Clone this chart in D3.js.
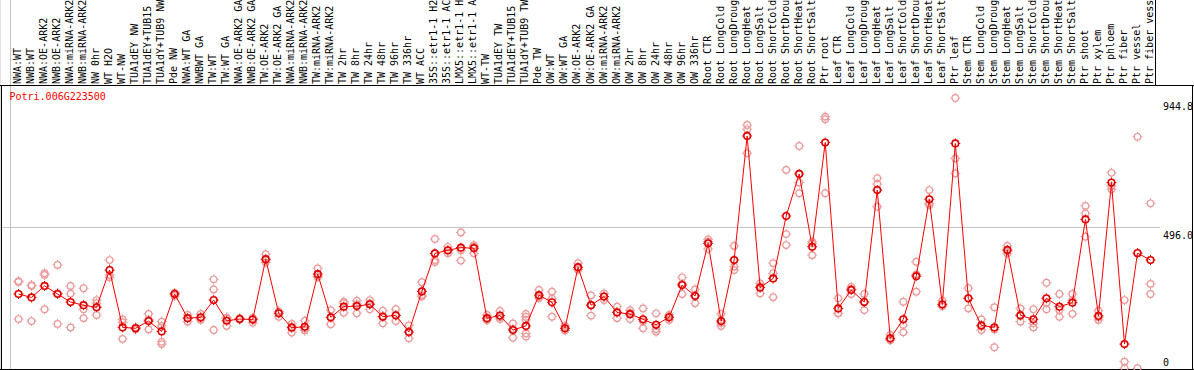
<!DOCTYPE html>
<html>
<head>
<meta charset="utf-8">
<script src="https://cdn.jsdelivr.net/npm/d3@7"></script>
<style>
  body { margin: 0; background: #fff; }
  svg { display: block; }
  text { font-family: "DejaVu Sans Mono", monospace; font-size: 10px; }
</style>
</head>
<body>
<div id="chart"></div>
<script>
// expression profile of one gene across the sample series
const geneId = "Potri.006G223500";

// labels as far as the header shows them
const sampleLabels = [
  "NWA:WT", "NWB:WT", "NWA:OE-ARK2", "NWB:OE-ARK2", "NWA:miRNA-ARK2", "NWB:miRNA-ARK2",
  "NW 0hr", "WT H2O", "WT-NW", "TUA1dEY NW", "TUA1dEY+TUB15", "TUA1dY+TUB9 NW", "Pde NW",
  "NWA:WT GA", "NWBWT GA", "TW:WT", "TW:WT GA", "NWA:OE-ARK2 GA", "NWB:OE-ARK2 GA",
  "TW:OE-ARK2", "TW:OE-ARK2 GA", "NWA:miRNA-ARK2", "NWB:miRNA-ARK2", "TW:miRNA-ARK2",
  "TW:miRNA-ARK2", "TW 2hr", "TW 8hr", "TW 24hr", "TW 48hr", "TW 96hr", "TW 336hr",
  "WT ACC", "35S::etr1-1 H2", "35S::etr1-1 AC", "LMX5::etr1-1 H", "LMX5::etr1-1 A",
  "WT-TW", "TUA1dEY TW", "TUA1dEY+TUB15", "TUA1dY+TUB9 TW", "Pde TW",
  "OW:WT", "OW:WT GA", "OW:OE-ARK2", "OW:OE-ARK2 GA", "OW:miRNA-ARK2", "OW:miRNA-ARK2",
  "OW 2hr", "OW 8hr", "OW 24hr", "OW 48hr", "OW 96hr", "OW 336hr",
  "Root CTR", "Root LongCold", "Root LongDroug", "Root LongHeat", "Root LongSalt",
  "Root ShortCold", "Root ShortDrou", "Root ShortHeat", "Root ShortSalt", "Ptr root",
  "Leaf CTR", "Leaf LongCold", "Leaf LongDroug", "Leaf LongHeat", "Leaf LongSalt",
  "Leaf ShortCold", "Leaf ShortDrou", "Leaf ShortHeat", "Leaf ShortSalt", "Ptr leaf",
  "Stem CTR", "Stem LongCold", "Stem LongDroug", "Stem LongHeat", "Stem LongSalt",
  "Stem ShortCold", "Stem ShortDrou", "Stem ShortHeat", "Stem ShortSalt", "Ptr shoot",
  "Ptr xylem", "Ptr phloem", "Ptr fiber", "Ptr vessel", "Ptr fiber vess"
];

// number of samples between separator lines
const groupSizes = [13, 28, 12, 10, 10, 11, 1, 1, 1, 1];

const meanValues = [
  264, 252, 292, 264, 236, 225, 218, 347, 148, 145, 170, 134, 264,
  180, 183, 243, 171, 177, 175, 385, 197, 147, 150, 333, 183, 220, 222, 228, 185, 190, 132,
  273, 405, 416, 425, 423, 180, 189, 139, 153, 260,
  235, 145, 357, 225, 255, 200, 194, 176, 157, 183, 295, 257,
  440, 170, 382, 813, 286, 318, 535, 681, 428, 790,
  214, 278, 236, 625, 110, 176, 326, 593, 228, 787,
  249, 155, 148, 417, 190, 176, 249, 220, 234, 523, 188,
  651, 90, 406, 382
];

const replicateValues = [
  [309, 177, 306], [295, 170, 292], [336, 330, 211], [365, 160, 267], [292, 265, 148],
  [284, 211, 180], [243, 232, 191], [382, 330, 322], [176, 166, 108], [148, 141, 146],
  [195, 141, 175], [168, 153, 98, 90], [268, 257, 267],
  [191, 168, 180], [195, 174, 180], [315, 280, 139], [183, 153, 178], [180, 175, 177],
  [180, 164, 180], [402, 373, 382], [203, 185, 203], [160, 130, 151], [171, 137, 143],
  [353, 324, 323], [208, 159, 182], [237, 232, 199], [241, 197, 229], [243, 211, 231],
  [206, 162, 187], [211, 170, 189], [155, 110, 131], [305, 260, 255], [455, 382, 375],
  [428, 405, 414], [478, 380, 416], [434, 405, 429], [191, 174, 174], [205, 177, 184],
  [162, 112, 143], [195, 185, 174, 127, 116], [278, 253, 250],
  [272, 185, 248], [153, 137, 144], [371, 350, 349], [259, 189, 226], [266, 243, 255],
  [220, 180, 201], [208, 177, 198], [214, 145, 169], [197, 133, 142], [191, 174, 184],
  [322, 264, 300], [280, 232, 259],
  [454, 446, 420], [195, 153, 163], [431, 359, 347], [851, 836, 753], [301, 266, 291],
  [371, 336, 253], [695, 472, 434], [778, 651, 614], [446, 399, 440], [880, 871, 614],
  [249, 197, 197], [289, 264, 281], [264, 208, 237], [666, 646, 567], [122, 104, 104],
  [237, 156, 131], [376, 272, 332], [625, 579, 573], [241, 222, 222], [944.8, 735, 683],
  [284, 214, 249], [176, 139, 151], [218, 141, 79], [431, 405, 414], [214, 168, 188],
  [211, 162, 148], [303, 211, 233], [264, 208, 185], [264, 195, 242], [570, 544, 463],
  [206, 174, 183], [685, 628, 639], [243, 29, 6], [810, 6], [579, 299, 264]
];

const yTickValues = [944.8, 496.0, 0];
const yTickLabels = ["944.8", "496.0", "0"];
const gridValues = [496.0];

const width = 1194, height = 370;
const headerBottom = 85;
const plotLeft = 10, plotRight = 1155;

const svg = d3.select("#chart").append("svg")
  .attr("width", width)
  .attr("height", height);

svg.append("rect").attr("width", width).attr("height", height).attr("fill", "#fff");

const x = d3.scaleBand()
  .domain(d3.range(sampleLabels.length))
  .range([plotLeft, plotRight])
  .padding(0);

const y = d3.scaleLinear()
  .domain([0, d3.max(yTickValues)])
  .range([370, 98]);

const cx = i => x(i) + x.bandwidth() / 2 + 2;

// group separators
const bounds = [0].concat(d3.cumsum(groupSizes));
const sepX = d => Math.round(d === sampleLabels.length ? plotRight : x(d)) + 0.5;
svg.append("g")
  .selectAll("line")
  .data(bounds)
  .join("line")
  .attr("x1", sepX)
  .attr("x2", sepX)
  .attr("y1", 0)
  .attr("y2", height)
  .attr("stroke", "#c4c4c4")
  .attr("stroke-width", 1);

// right edge of the label header is dark
svg.append("line")
  .attr("x1", sepX(sampleLabels.length)).attr("x2", sepX(sampleLabels.length))
  .attr("y1", 0).attr("y2", headerBottom)
  .attr("stroke", "#000");

// horizontal grid
svg.append("g")
  .selectAll("line")
  .data(gridValues)
  .join("line")
  .attr("x1", 0)
  .attr("x2", 1160)
  .attr("y1", d => Math.round(y(d)) + 0.5)
  .attr("y2", d => Math.round(y(d)) + 0.5)
  .attr("stroke", "#c4c4c4");

// frame
svg.append("line").attr("x1", 0).attr("x2", width).attr("y1", headerBottom + 0.5).attr("y2", headerBottom + 0.5)
  .attr("stroke", "#000");
svg.append("line").attr("x1", 0).attr("x2", width).attr("y1", 369.5).attr("y2", 369.5)
  .attr("stroke", "#000");
svg.append("line").attr("x1", 1.5).attr("x2", 1.5).attr("y1", headerBottom).attr("y2", height)
  .attr("stroke", "#000");
svg.append("line").attr("x1", 1192.5).attr("x2", 1192.5).attr("y1", headerBottom).attr("y2", height)
  .attr("stroke", "#000");

// sample labels, vertical
svg.append("g")
  .selectAll("text")
  .data(sampleLabels)
  .join("text")
  .attr("transform", (d, i) => "translate(" + (x(i) + x.bandwidth() / 2 + 4.5) + "," + 84 + ") rotate(-90)")
  .attr("fill", "#000")
  .text(d => d);

// title
svg.append("text")
  .attr("x", 9.5)
  .attr("y", 100)
  .attr("fill", "#ff0000")
  .text(geneId);

// y tick labels
svg.append("g")
  .selectAll("text")
  .data(yTickValues)
  .join("text")
  .attr("x", 1163)
  .attr("y", d => Math.min(y(d) + 12, 366))
  .attr("fill", "#000")
  .text((d, i) => yTickLabels[i]);

// replicate points
const reps = [];
replicateValues.forEach((vals, i) => vals.forEach(v => reps.push({ i: i, v: v })));

function marker(g, color, sw) {
  g.append("circle")
    .attr("r", 3.3)
    .attr("fill", "none")
    .attr("stroke", color)
    .attr("stroke-width", sw);
  g.append("path")
    .attr("d", "M0,-5V-3.5M0,3.5V5M-5,0H-3.5M3.5,0H5")
    .attr("stroke", color)
    .attr("stroke-width", 1);
}

svg.append("g")
  .selectAll("g")
  .data(reps)
  .join("g")
  .attr("transform", d => "translate(" + cx(d.i) + "," + y(d.v) + ")")
  .each(function () { marker(d3.select(this), "#eb9a9a", 1.2); });

// mean line
const line = d3.line()
  .x((d, i) => cx(i))
  .y(d => y(d));

svg.append("path")
  .datum(meanValues)
  .attr("d", line)
  .attr("fill", "none")
  .attr("stroke", "#ff0000")
  .attr("stroke-width", 1);

svg.append("g")
  .selectAll("g")
  .data(meanValues)
  .join("g")
  .attr("transform", (d, i) => "translate(" + cx(i) + "," + y(d) + ")")
  .each(function () { marker(d3.select(this), "#e00000", 1.6); });
</script>
</body>
</html>
